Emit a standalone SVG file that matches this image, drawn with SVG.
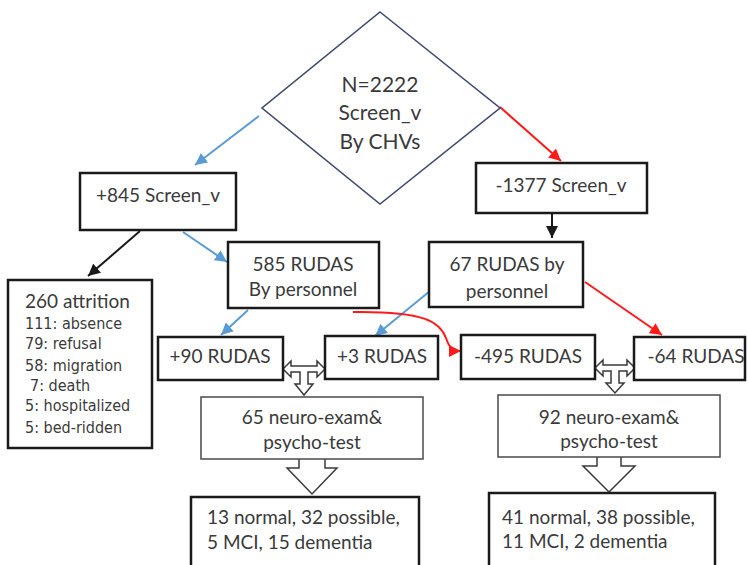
<svg xmlns="http://www.w3.org/2000/svg" width="748" height="565" viewBox="0 0 748 565">
<style>
.box{fill:#fff;stroke:#1a1a1a;stroke-width:2.5}
.thin{fill:#fff;stroke:#4a4a4a;stroke-width:1.5}
.blk{fill:#fff;stroke:#3a3a3a;stroke-width:1.5}
.t{font-family:Lato,"Liberation Sans",sans-serif;font-size:19px;fill:#3a3a3a;text-anchor:middle}
.tl{font-family:Lato,"Liberation Sans",sans-serif;font-size:19px;fill:#3a3a3a}
.tv{font-family:"DejaVu Sans Condensed","DejaVu Sans",sans-serif;font-stretch:condensed;font-size:16px;fill:#3a3a3a}
.d{font-family:Lato,"Liberation Sans",sans-serif;font-size:21px;fill:#3a3a3a;text-anchor:middle}
.cb{fill:none;stroke:#5b9bd5;stroke-width:2}
.cr{fill:none;stroke:#ff1a1a;stroke-width:2}
.ck{fill:none;stroke:#1a1a1a;stroke-width:2}
</style>
<defs>
<marker id="ab" markerUnits="userSpaceOnUse" markerWidth="14" markerHeight="12" refX="12" refY="6" orient="auto"><path d="M0,0 L12,6 L0,12 Z" fill="#5b9bd5"/></marker>
<marker id="ar" markerUnits="userSpaceOnUse" markerWidth="14" markerHeight="12" refX="12" refY="6" orient="auto"><path d="M0,0 L12,6 L0,12 Z" fill="#ff1a1a"/></marker>
<marker id="ak" markerUnits="userSpaceOnUse" markerWidth="14" markerHeight="12" refX="12" refY="6" orient="auto"><path d="M0,0 L12,6 L0,12 Z" fill="#1a1a1a"/></marker>
</defs>
<rect width="748" height="565" fill="#fff"/>

<g id="connectors">
<path class="cb" d="M259,116 L195,165" marker-end="url(#ab)"/>
<path class="cr" d="M500,107 L561,161" marker-end="url(#ar)"/>
<path class="ck" d="M140,231 L88,276" marker-end="url(#ak)"/>
<path class="cb" d="M183,232 L227,262" marker-end="url(#ab)"/>
<path class="ck" d="M552,213 L552,238" marker-end="url(#ak)"/>
<path class="cb" d="M248,310 L221,335" marker-end="url(#ab)"/>
<path class="cb" d="M430,291 L375,336" marker-end="url(#ab)"/>
<path class="cr" d="M353,312 C425,311 440,322 446,338 C449,347 452,351 461,351" marker-end="url(#ar)"/>
<path class="cr" d="M585,282 L662,335" marker-end="url(#ar)"/>
<path class="blk" d="M283,369 L291,361 L291,366 L317,366 L317,361 L325,369 L317,377 L317,372 L308,372 L308,384 L313,384 L304,395 L295,384 L300,384 L300,372 L291,372 L291,377 Z"/>
<path class="blk" d="M595,368 L603,360 L603,365 L627,365 L627,360 L635,368 L627,376 L627,371 L619,371 L619,383 L624,383 L615,393 L606,383 L611,383 L611,371 L603,371 L603,376 Z"/>
<path class="blk" d="M299,459 L299,468 L287,468 L312,494 L337,468 L325,468 L325,459"/>
<path class="blk" d="M597,457 L597,466 L583,466 L609,492 L635,466 L621,466 L621,457"/>
</g>

<g id="start">
<path d="M380,12 L500,108 L380,204 L262,108 Z" fill="#fff" stroke="#3f4a6e" stroke-width="1.6"/>
<text class="d" x="380" y="92">N=2222</text>
<text class="d" x="380" y="120">Screen_v</text>
<text class="d" x="380" y="149">By CHVs</text>
</g>

<g id="n845">
<rect class="box" x="80" y="173" width="156" height="57"/>
<text class="t" x="158" y="202">+845 Screen_v</text>
</g>

<g id="n1377">
<rect class="box" x="476" y="163" width="171" height="50"/>
<text class="t" x="561" y="192">-1377 Screen_v</text>
</g>

<g id="attrition">
<rect class="box" x="8" y="280" width="144" height="168"/>
<text class="tl" x="25" y="308">260 attrition</text>
<text class="tv" x="25" y="329">111: absence</text>
<text class="tv" x="25" y="349">79: refusal</text>
<text class="tv" x="25" y="371">58: migration</text>
<text class="tv" x="30" y="391">7: death</text>
<text class="tv" x="25" y="411">5: hospitalized</text>
<text class="tv" x="25" y="433">5: bed-ridden</text>
</g>

<g id="n585">
<rect class="box" x="228" y="242" width="151" height="66"/>
<text class="t" x="303" y="271">585 RUDAS</text>
<text class="t" x="303" y="296">By personnel</text>
</g>

<g id="n67">
<rect class="box" x="429" y="242" width="154" height="65"/>
<text class="t" x="507" y="271">67 RUDAS by</text>
<text class="t" x="507" y="298">personnel</text>
</g>

<g id="p90">
<rect class="box" x="158" y="337" width="125" height="43"/>
<text class="t" x="220" y="363">+90 RUDAS</text>
</g>

<g id="p3">
<rect class="box" x="325" y="336" width="113" height="43"/>
<text class="t" x="382" y="363">+3 RUDAS</text>
</g>

<g id="m495">
<rect class="box" x="461" y="335" width="134" height="44"/>
<text class="t" x="528" y="363">-495 RUDAS</text>
</g>

<g id="m64">
<rect class="box" x="634" y="337" width="111" height="43"/>
<text class="t" x="696" y="363">-64 RUDAS</text>
</g>

<g id="exam65">
<rect class="thin" x="201" y="397" width="222" height="62"/>
<text class="t" x="312" y="424">65 neuro-exam&amp;</text>
<text class="t" x="312" y="449">psycho-test</text>
</g>

<g id="exam92">
<rect class="thin" x="498" y="395" width="222" height="62"/>
<text class="t" x="609" y="424">92 neuro-exam&amp;</text>
<text class="t" x="609" y="448">psycho-test</text>
</g>

<g id="res65">
<rect class="box" x="191" y="497" width="228" height="90"/>
<text class="tl" x="207" y="524">13 normal, 32 possible,</text>
<text class="tl" x="207" y="549">5 MCI, 15 dementia</text>
</g>

<g id="res92">
<rect class="box" x="489" y="493" width="226" height="94"/>
<text class="tl" x="502" y="524">41 normal, 38 possible,</text>
<text class="tl" x="502" y="548">11 MCI, 2 dementia</text>
</g>
</svg>
